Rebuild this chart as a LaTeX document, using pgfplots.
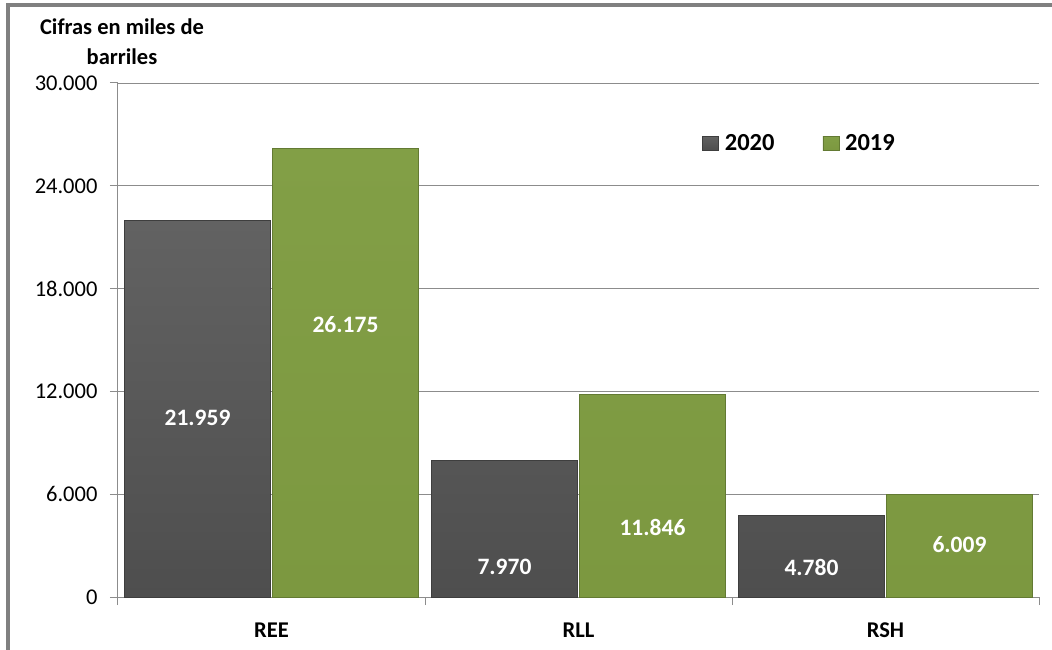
\documentclass[border=0pt]{standalone}
\usepackage{pgfplots}
\pgfplotsset{compat=1.18}
\usepackage{fontspec}
\setmainfont{Carlito}
\definecolor{frameGray}{RGB}{128,128,128}
\definecolor{gridGray}{RGB}{140,140,140}
\definecolor{grayTop}{RGB}{98,98,98}
\definecolor{grayBot}{RGB}{78,78,78}
\definecolor{greenTop}{RGB}{130,159,70}
\definecolor{greenBot}{RGB}{124,152,64}

\begin{document}
\begin{tikzpicture}
  \useasboundingbox (-118pt,-52pt) rectangle (934pt,597pt);
  \draw[frameGray, line width=3.5pt] (-110pt,-60pt) -- (-110pt,592pt) -- (940pt,592pt);
  \node[align=center, font=\bfseries\fontsize{22.5}{30}\selectfont] at (4pt,555pt)
    {Cifras en miles de\\barriles};
  \begin{axis}[
      at={(0,0)}, anchor=south west,
      scale only axis, width=921pt, height=514pt,
      xmin=-0.5, xmax=2.5, ymin=0, ymax=30000,
      axis lines=left, axis line style={-, draw=gridGray, line width=1pt},
      ytick={0,6000,...,30000},
      ymajorgrids, major grid style={draw=gridGray, line width=0.8pt},
      xtick={0,1,2}, xticklabels={REE,RLL,RSH},
      minor xtick={-0.5,0.5,1.5,2.5},
      tick align=outside,
      major x tick style={draw=none},
      minor tick length=8pt, major tick length=8pt,
      tick style={draw=gridGray, line width=1pt},
      xticklabel style={font=\bfseries\fontsize{22.5}{22}\selectfont, yshift=-14pt},
      yticklabel style={font=\fontsize{22.5}{22}\selectfont, xshift=-9pt},
      /pgf/number format/.cd, 1000 sep={.}, assume math mode=true, /pgfplots/.cd,
      scaled y ticks=false,
      legend style={at={(rel axis cs:0.74,0.883)}, anchor=center, draw=none, fill=none,
        font=\bfseries\fontsize{24.5}{24}\selectfont,
        /tikz/every odd column/.append style={column sep=4pt},
        /tikz/every even column/.append style={column sep=46pt}},
      legend columns=2,
      legend image code/.code={\fill[#1] (0pt,-7pt) rectangle (16pt,7pt);},
    ]
    \addplot[ybar, bar width=0.476, bar shift=-0.241, draw=grayBot!80!black, line width=0.6pt,
      top color=grayTop, bottom color=grayBot]
      coordinates {(0,21959) (1,7970) (2,4780)};
    \addlegendentry{2020}
    \addplot[ybar, bar width=0.476, bar shift=0.241, draw=greenBot!80!black, line width=0.6pt,
      top color=greenTop, bottom color=greenBot]
      coordinates {(0,26175) (1,11846) (2,6009)};
    \addlegendentry{2019}
    \begin{scope}[every node/.style={text=white, font=\bfseries\fontsize{23.5}{22}\selectfont}]
      \node at (axis cs:-0.241,10447) {21.959};
      \node at (axis cs:0.241,15875) {26.175};
      \node at (axis cs:0.759,1751) {7.970};
      \node at (axis cs:1.241,4086) {11.846};
      \node at (axis cs:1.759,1751) {4.780};
      \node at (axis cs:2.241,3035) {6.009};
    \end{scope}
  \end{axis}
\end{tikzpicture}
\end{document}
